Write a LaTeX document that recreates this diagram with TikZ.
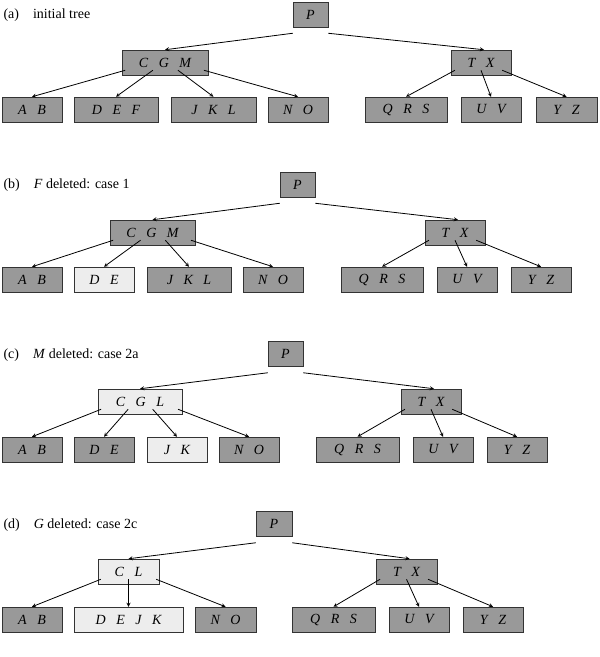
\documentclass[tikz,border=0pt]{standalone}
\usepackage{fontspec}
\setmainfont{Liberation Serif}
\usetikzlibrary{calc}
\tikzset{
  dk/.style={draw=black!80, fill=black!40, minimum height=25pt, inner sep=0pt, font=\fontsize{14}{16}\selectfont\itshape, line width=0.5pt},
  lt/.style={dk, fill=black!7},
  arr/.style={-stealth, line width=0.8pt},
  lab/.style={anchor=west, font=\fontsize{14}{16}\selectfont}
}
\newcommand{\K}{\hspace{0.75em}}
\newcommand{\fr}[2]{($([yshift=5pt]#1.south west)!#2!([yshift=5pt]#1.south east)$)}
\begin{document}
\begin{tikzpicture}[x=1pt,y=-1pt]
\useasboundingbox (0,0) rectangle (600,657);
% ---------- (a)
\node[lab] (la) at (0,15) {(a)\hspace{1em}initial tree};
\node[dk,minimum width=35pt] (aP) at (310.5,14.5) {P};
\node[dk,minimum width=86pt] (aC) at (165,62.5) {C\K G\K M};
\node[dk,minimum width=60pt] (aT) at (481,62.5) {T\K X};
\node[dk,minimum width=60pt] (a1) at (32,109.5) {A\K B};
\node[dk,minimum width=84pt] (a2) at (116,109.5) {D\K E\K F};
\node[dk,minimum width=85pt] (a3) at (213.5,109.5) {J\K K\K L};
\node[dk,minimum width=60pt] (a4) at (298,109.5) {N\K O};
\node[dk,minimum width=82pt] (a5) at (406,109.5) {Q\K R\K S};
\node[dk,minimum width=60pt] (a6) at (491,109.5) {U\K V};
\node[dk,minimum width=61pt] (a7) at (566.5,109.5) {Y\K Z};
\draw[arr] ([yshift=-6pt]aP.south west) -- (aC.north);
\draw[arr] ([yshift=-6pt]aP.south east) -- ([xshift=3pt]aT.north);
\draw[arr] \fr{aC}{0.04} -- (a1.north);
\draw[arr] \fr{aC}{0.36} -- (a2.north);
\draw[arr] \fr{aC}{0.65} -- (a3.north);
\draw[arr] \fr{aC}{0.95} -- (a4.north);
\draw[arr] \fr{aT}{0.07} -- (a5.north);
\draw[arr] \fr{aT}{0.5} -- (a6.north);
\draw[arr] \fr{aT}{0.85} -- (a7.north);
% ---------- (b)
\node[lab] (lb) at (0,185) {(b)\hspace{1em}\textit{F} deleted: case 1};
\node[dk,minimum width=35pt] (bP) at (297.5,184.5) {P};
\node[dk,minimum width=85pt] (bC) at (152.5,232.5) {C\K G\K M};
\node[dk,minimum width=60pt] (bT) at (455,232.5) {T\K X};
\node[dk,minimum width=60pt] (b1) at (32,279.5) {A\K B};
\node[lt,minimum width=60pt] (b2) at (104,279.5) {D\K E};
\node[dk,minimum width=84pt] (b3) at (189,279.5) {J\K K\K L};
\node[dk,minimum width=60pt] (b4) at (273,279.5) {N\K O};
\node[dk,minimum width=82pt] (b5) at (382,279.5) {Q\K R\K S};
\node[dk,minimum width=60pt] (b6) at (467,279.5) {U\K V};
\node[dk,minimum width=60pt] (b7) at (541,279.5) {Y\K Z};
\draw[arr] ([yshift=-6pt]bP.south west) -- (bC.north);
\draw[arr] ([yshift=-6pt]bP.south east) -- ([xshift=3pt]bT.north);
\draw[arr] \fr{bC}{0.04} -- (b1.north);
\draw[arr] \fr{bC}{0.36} -- (b2.north);
\draw[arr] \fr{bC}{0.65} -- (b3.north);
\draw[arr] \fr{bC}{0.95} -- (b4.north);
\draw[arr] \fr{bT}{0.07} -- (b5.north);
\draw[arr] \fr{bT}{0.5} -- (b6.north);
\draw[arr] \fr{bT}{0.85} -- (b7.north);
% ---------- (c)
\node[lab] (lc) at (0,355) {(c)\hspace{1em}\textit{M} deleted: case 2a};
\node[dk,minimum width=35pt] (cP) at (285.5,354) {P};
\node[lt,minimum width=84pt] (cC) at (140,401.5) {C\K G\K L};
\node[dk,minimum width=60pt] (cT) at (431,401.5) {T\K X};
\node[dk,minimum width=60pt] (c1) at (32,449.5) {A\K B};
\node[dk,minimum width=60pt] (c2) at (104,449.5) {D\K E};
\node[lt,minimum width=60pt] (c3) at (177,449.5) {J\K K};
\node[dk,minimum width=60pt] (c4) at (249,449.5) {N\K O};
\node[dk,minimum width=83pt] (c5) at (357.5,449.5) {Q\K R\K S};
\node[dk,minimum width=60pt] (c6) at (443,449.5) {U\K V};
\node[dk,minimum width=60pt] (c7) at (517,449.5) {Y\K Z};
\draw[arr] ([yshift=-6pt]cP.south west) -- (cC.north);
\draw[arr] ([yshift=-6pt]cP.south east) -- ([xshift=3pt]cT.north);
\draw[arr] \fr{cC}{0.04} -- (c1.north);
\draw[arr] \fr{cC}{0.36} -- (c2.north);
\draw[arr] \fr{cC}{0.65} -- (c3.north);
\draw[arr] \fr{cC}{0.95} -- (c4.north);
\draw[arr] \fr{cT}{0.07} -- (c5.north);
\draw[arr] \fr{cT}{0.5} -- (c6.north);
\draw[arr] \fr{cT}{0.85} -- (c7.north);
% ---------- (d)
\node[lab] (ld) at (0,525) {(d)\hspace{1em}\textit{G} deleted: case 2c};
\node[dk,minimum width=36pt] (dP) at (274,524) {P};
\node[lt,minimum width=61pt] (dC) at (128.5,571.5) {C\K L};
\node[dk,minimum width=61pt] (dT) at (406.5,571.5) {T\K X};
\node[dk,minimum width=60pt] (d1) at (32,619.5) {A\K B};
\node[lt,minimum width=109pt] (d2) at (128.5,619.5) {D\K E\K J\K K};
\node[dk,minimum width=61pt] (d4) at (225.5,619.5) {N\K O};
\node[dk,minimum width=83pt] (d5) at (333.5,619.5) {Q\K R\K S};
\node[dk,minimum width=60pt] (d6) at (419,619.5) {U\K V};
\node[dk,minimum width=60pt] (d7) at (493,619.5) {Y\K Z};
\draw[arr] ([yshift=-6pt]dP.south west) -- (dC.north);
\draw[arr] ([yshift=-6pt]dP.south east) -- ([xshift=3pt]dT.north);
\draw[arr] \fr{dC}{0.05} -- (d1.north);
\draw[arr] \fr{dC}{0.5} -- (d2.north);
\draw[arr] \fr{dC}{0.95} -- (d4.north);
\draw[arr] \fr{dT}{0.07} -- (d5.north);
\draw[arr] \fr{dT}{0.5} -- (d6.north);
\draw[arr] \fr{dT}{0.85} -- (d7.north);
\end{tikzpicture}
\end{document}
